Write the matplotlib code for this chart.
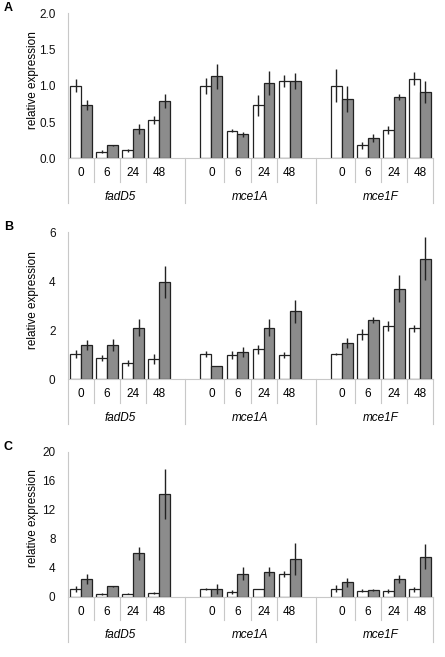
import matplotlib
matplotlib.use('Agg')
import matplotlib.pyplot as plt
import matplotlib.transforms as mtransforms

plt.rcParams['font.family'] = ['Liberation Sans', 'DejaVu Sans']

genes = ['fadD5', 'mce1A', 'mce1F']
times = ['0', '6', '24', '48']

# Panel A
a_white = [1.00, 0.09, 0.11, 0.53, 1.00, 0.38, 0.73, 1.07, 1.00, 0.18, 0.39, 1.10]
a_white_err = [0.09, 0.02, 0.02, 0.06, 0.11, 0.02, 0.15, 0.08, 0.23, 0.05, 0.06, 0.09]
a_gray = [0.74, 0.18, 0.40, 0.79, 1.13, 0.33, 1.04, 1.07, 0.82, 0.28, 0.85, 0.91]
a_gray_err = [0.07, 0.01, 0.07, 0.10, 0.17, 0.03, 0.17, 0.11, 0.18, 0.05, 0.04, 0.15]

# Panel B
b_white = [1.03, 0.87, 0.65, 0.83, 1.03, 0.99, 1.22, 0.99, 1.03, 1.84, 2.18, 2.08]
b_white_err = [0.18, 0.13, 0.12, 0.20, 0.12, 0.17, 0.17, 0.13, 0.03, 0.22, 0.20, 0.13]
b_gray = [1.41, 1.39, 2.11, 3.97, 0.54, 1.10, 2.11, 2.78, 1.47, 2.41, 3.70, 4.93]
b_gray_err = [0.20, 0.25, 0.35, 0.65, 0.0, 0.20, 0.35, 0.47, 0.20, 0.12, 0.56, 0.86]

# Panel C
c_white = [1.10, 0.37, 0.41, 0.55, 1.01, 0.64, 1.00, 3.17, 1.10, 0.83, 0.75, 1.01]
c_white_err = [0.40, 0.10, 0.05, 0.15, 0.15, 0.25, 0.0, 0.40, 0.45, 0.20, 0.25, 0.30]
c_gray = [2.48, 1.43, 5.98, 14.16, 1.01, 3.20, 3.45, 5.15, 1.98, 0.92, 2.48, 5.52]
c_gray_err = [0.70, 0.10, 0.90, 3.50, 0.70, 0.90, 0.60, 2.20, 0.60, 0.10, 0.55, 1.70]

panels = [
    ('A', a_white, a_white_err, a_gray, a_gray_err, [0.0, 0.5, 1.0, 1.5, 2.0], ['0.0', '0.5', '1.0', '1.5', '2.0'], 13.3, 158.3),
    ('B', b_white, b_white_err, b_gray, b_gray_err, [0, 2, 4, 6], ['0', '2', '4', '6'], 232.3, 379.3),
    ('C', c_white, c_white_err, c_gray, c_gray_err, [0, 4, 8, 12, 16, 20], ['0', '4', '8', '12', '16', '20'], 451.7, 596.7),
]

W, H = 445, 657
fig = plt.figure(figsize=(W / 100, H / 100), dpi=100)

left_px, right_px = 68, 433
bw = 0.42
sep_color = '#c8c8c8'

for letter, white, white_err, gray, gray_err, yt, ytl, top_px, bot_px in panels:
    ax = fig.add_axes([left_px / W, 1 - bot_px / H, (right_px - left_px) / W, (bot_px - top_px) / H])
    centers = []
    for g in range(len(genes)):
        for t in range(len(times)):
            centers.append(g * 5 + t + 0.5)
    xw = [c - bw / 2 for c in centers]
    xg = [c + bw / 2 for c in centers]
    ax.bar(xw, white, width=bw, color='white', edgecolor='#222222', linewidth=0.9, zorder=2)
    ax.bar(xg, gray, width=bw, color='#8c8c8c', edgecolor='#222222', linewidth=0.9, zorder=2)
    ax.errorbar(xw, white, yerr=white_err, fmt='none', ecolor='#222222', elinewidth=1.0, capsize=0, zorder=3)
    ax.errorbar(xg, gray, yerr=gray_err, fmt='none', ecolor='#222222', elinewidth=1.0, capsize=0, zorder=3)

    ax.set_xlim(0, 14)
    ax.set_ylim(yt[0], yt[-1])
    ax.set_yticks(yt)
    ax.set_yticklabels(ytl)
    ax.set_xticks([])
    ax.tick_params(axis='y', length=0, pad=9, labelsize=8.5, colors='#111111')
    for s in ['top', 'right', 'left']:
        ax.spines[s].set_visible(False)
    ax.spines['bottom'].set_color(sep_color)
    ax.spines['bottom'].set_linewidth(0.8)
    ax.set_ylabel('relative expression', fontsize=8.5)
    ax.yaxis.set_label_coords((39 - left_px) / (right_px - left_px), 0.54)

    hpx = bot_px - top_px
    trans = mtransforms.blended_transform_factory(ax.transData, ax.transAxes)
    short = -23.5 / hpx
    long = -45.0 / hpx
    # left axis line, extended down into label area
    ax.plot([0, 0], [1, long], transform=trans, color=sep_color, lw=0.8, clip_on=False)
    for g in range(len(genes)):
        for t in range(1, len(times)):
            x = g * 5 + t
            ax.plot([x, x], [0, short], transform=trans, color=sep_color, lw=0.8, clip_on=False)
    for x in [4.5, 9.5, 14]:
        ax.plot([x, x], [0, long], transform=trans, color=sep_color, lw=0.8, clip_on=False)
    for g, gene in enumerate(genes):
        for t, tm in enumerate(times):
            ax.text(g * 5 + t + 0.5, -15.0 / hpx, tm, transform=trans, ha='center', va='center', fontsize=8.5)
        ax.text(g * 5 + 2.0, -38.5 / hpx, gene, transform=trans, ha='center', va='center', fontsize=8.5, style='italic')

    fig.text(4 / W, 1 - (top_px - 5) / H, letter, fontsize=9, fontweight='bold', ha='left', va='center')

fig.savefig('out.png', dpi=100)
